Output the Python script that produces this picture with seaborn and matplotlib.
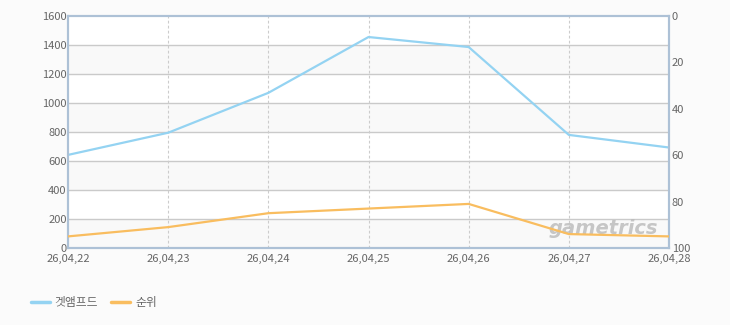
import matplotlib
matplotlib.use("Agg")
import matplotlib.pyplot as plt
import seaborn as sns
import pandas as pd
from matplotlib.lines import Line2D

dates = ["26,04,22", "26,04,23", "26,04,24", "26,04,25", "26,04,26", "26,04,27", "26,04,28"]
users = [642, 795, 1070, 1455, 1386, 780, 693]
ranks = [95, 91, 85, 83, 81, 94, 95]
left_ticks = [0, 200, 400, 600, 800, 1000, 1200, 1400, 1600]
right_ticks = [0, 20, 40, 60, 80, 100]
series_names = ["겟앰프드", "순위"]

BLUE = "#94d3f2"
ORANGE = "#f9bd5f"
FRAME = "#adc1d6"
TXT = "#666666"

sns.set_theme(style="white")
plt.rcParams["font.family"] = ["Noto Sans CJK KR", "DejaVu Sans"]

df = pd.DataFrame({"date": dates, "x": range(len(dates)), "users": users, "rank": ranks})

fig = plt.figure(figsize=(7.3, 3.25), dpi=100, facecolor="#fbfbfb")
ax = fig.add_axes([68/730, 1-248/325, (669-68)/730, (248-16)/325])
ax.set_facecolor("white")

# alternating bands
for i in range(len(left_ticks) - 1):
    if i % 2 == 0:
        ax.axhspan(left_ticks[i], left_ticks[i+1], color="#f9f9f9", zorder=0, lw=0)
for t in left_ticks[1:-1]:
    ax.axhline(t, color="#cacaca", lw=1.0, zorder=1)
for xi in range(1, len(dates) - 1):
    ax.axvline(xi, color="#cccccc", lw=0.8, ls=(0, (2.5, 2)), zorder=1)

ax.text(0.982, 0.045, "gametrics", transform=ax.transAxes, ha="right", va="bottom",
        fontsize=14, fontstyle="italic", fontweight="bold", color="#bdbdbd",
        alpha=0.85, family="DejaVu Sans", zorder=2)

ax2 = ax.twinx()
sns.lineplot(data=df, x="x", y="users", ax=ax, color=BLUE, lw=1.6, zorder=3)
sns.lineplot(data=df, x="x", y="rank", ax=ax2, color=ORANGE, lw=1.6, zorder=3)

ax.set_xlim(0, len(dates) - 1)
ax.set_ylim(0, 1600)
ax2.set_ylim(100, 0)
ax.set_xticks(range(len(dates)))
ax.set_xticklabels(dates)
ax.set_yticks(left_ticks)
ax2.set_yticks(right_ticks)
ax.set_xlabel(""); ax.set_ylabel(""); ax2.set_ylabel("")
ax.tick_params(axis="both", length=0, labelsize=8, labelcolor=TXT, pad=1)
ax.tick_params(axis="x", pad=4)
ax2.tick_params(axis="y", length=0, labelsize=8, labelcolor=TXT, pad=2)

for a in (ax, ax2):
    for s in a.spines.values():
        s.set_color(FRAME)
        s.set_linewidth(1.5)
        s.set_visible(True)

handles = [Line2D([0], [0], color=BLUE, lw=2.5), Line2D([0], [0], color=ORANGE, lw=2.5)]
fig.legend(handles, series_names, loc="lower left", bbox_to_anchor=(20/730, 5/325),
           ncol=2, frameon=False, fontsize=8.5, handlelength=1.6, handletextpad=0.45,
           columnspacing=1.1, labelcolor=TXT)

fig.savefig("out.png", dpi=100, facecolor=fig.get_facecolor())
